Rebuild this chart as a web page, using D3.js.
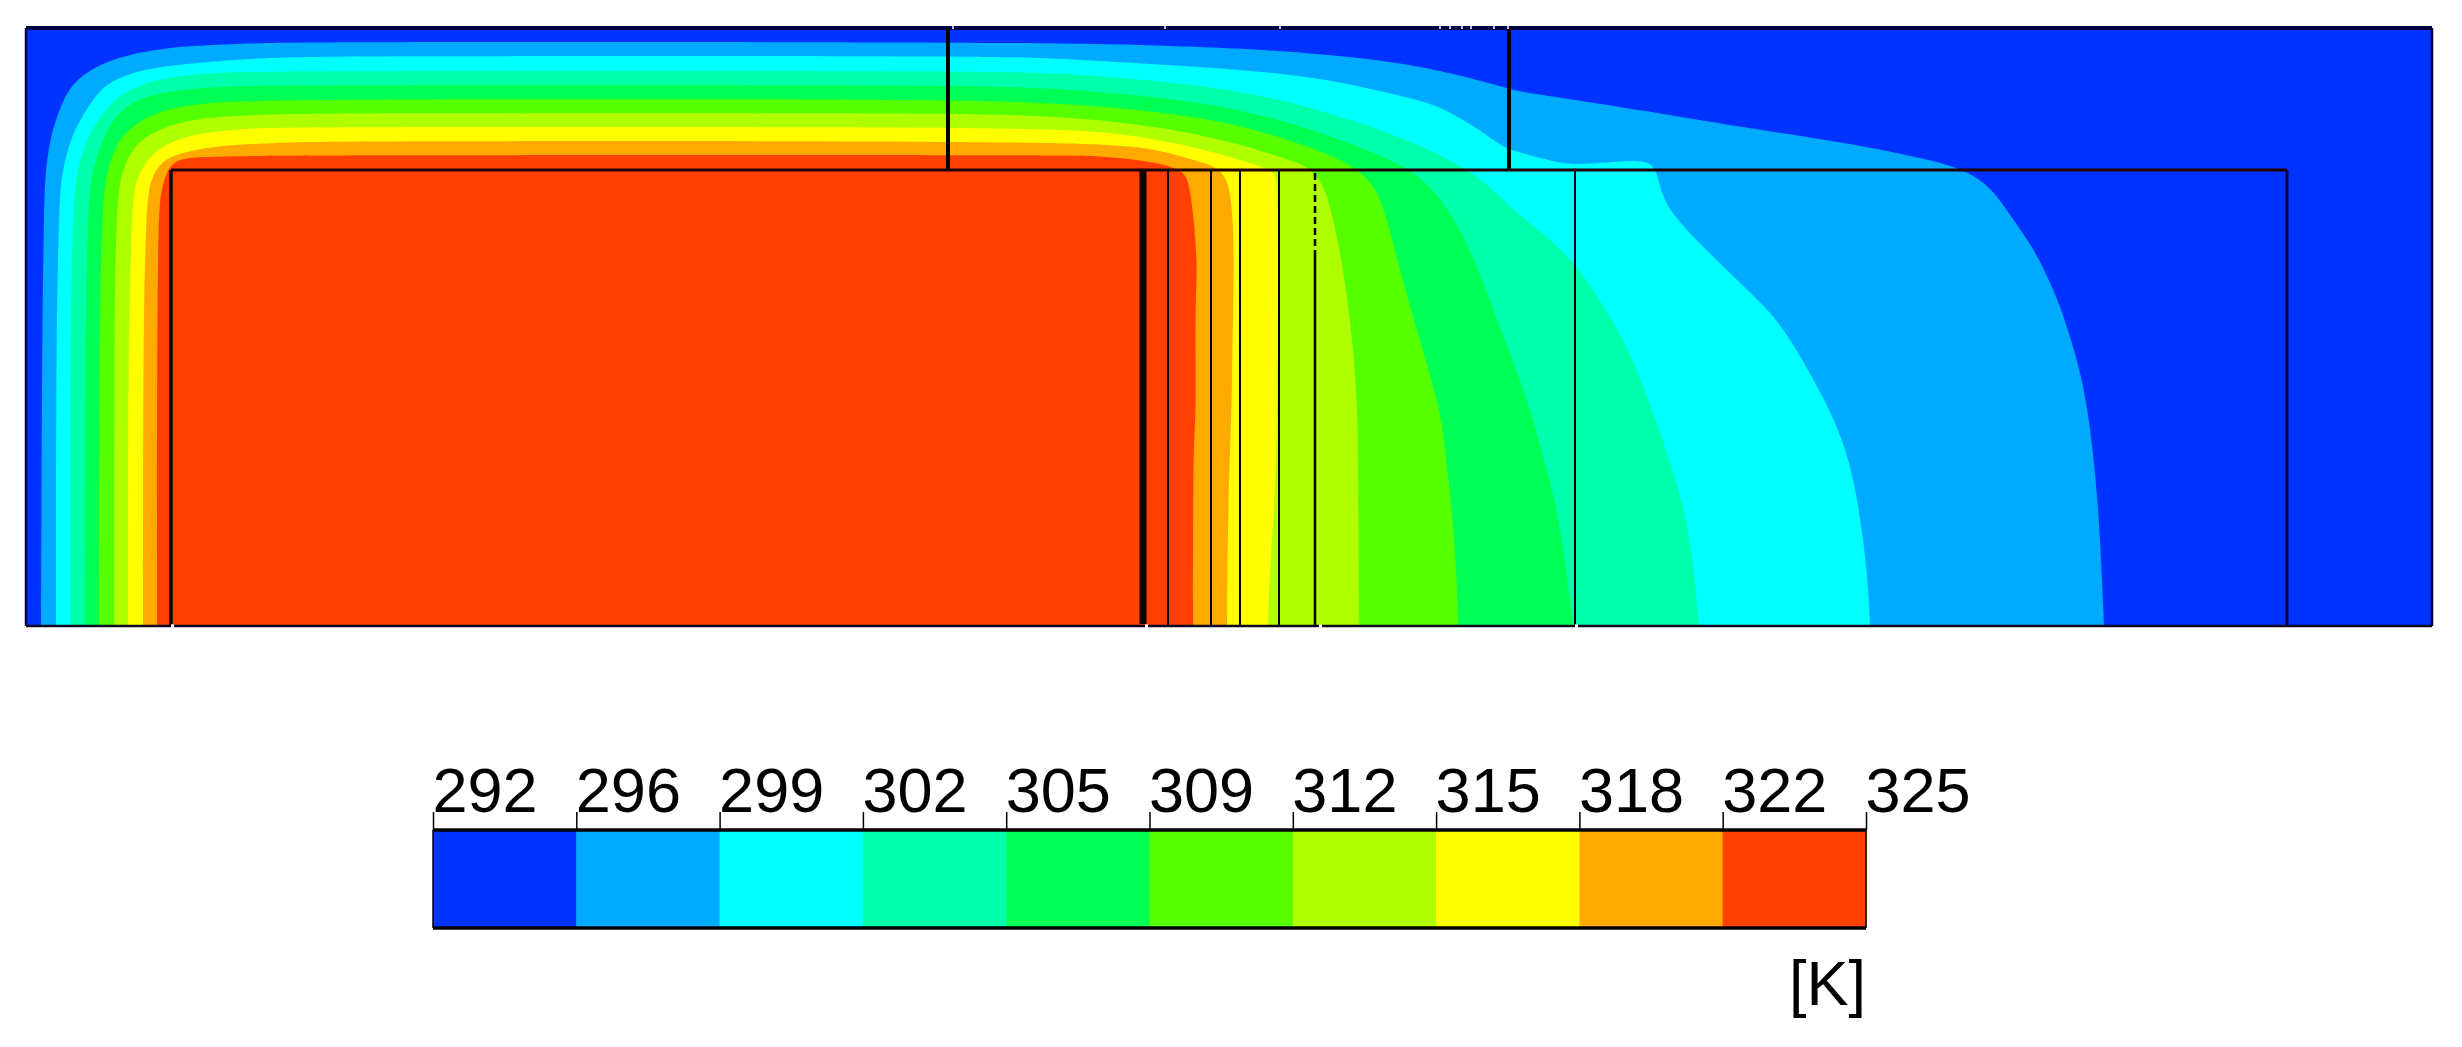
<!DOCTYPE html>
<html>
<head>
<meta charset="utf-8">
<script src="https://cdn.jsdelivr.net/npm/d3@7"></script>
<style>
    html, body { margin: 0; padding: 0; background: #fff; }
    svg { display: block; }
    text { font-family: "Liberation Sans", Arial, sans-serif; fill: #000; }
</style>
</head>
<body>
<div id="chart"></div>
<script>
// temperature bands, coolest first
var levelLabels = ["292", "296", "299", "302", "305", "309", "312", "315", "318", "322", "325"];
var bandColors = ["#0033ff", "#00aaff", "#00ffff", "#00ffaa", "#00ff55", "#55ff00", "#b0ff00", "#ffff00", "#ffaa00", "#ff4000"];
var unitLabel = "[K]";

// isotherms as [x, y] in mm along the section, y measured from the floor
var iso296 = [[15,0],[15,0],[16,276],[18,426],[20,459],[25,493],[37,526],[47,543],[68,559],[94,569],[126,576],[162,580],[209,582],[262,584],[774,584],[1067,583],[1174,579],[1241,576],[1307,571],[1394,561],[1479,539],[1484,536],[1537,528],[1614,516],[1713,499],[1823,483],[1891,469],[1943,456],[1970,433],[1985,409],[2004,383],[2017,359],[2032,326],[2042,296],[2057,246],[2067,179],[2074,96],[2078,0],[2078,0]];
var iso299 = [[30,0],[30,0],[30,276],[33,426],[37,459],[46,493],[66,526],[81,543],[105,553],[131,559],[178,564],[236,568],[314,570],[874,570],[1007,569],[1074,565],[1174,559],[1241,554],[1307,546],[1394,526],[1421,516],[1454,496],[1477,479],[1486,476],[1521,466],[1547,460],[1604,466],[1624,464],[1631,454],[1636,429],[1651,406],[1677,379],[1708,349],[1739,319],[1759,296],[1794,236],[1821,179],[1834,113],[1842,46],[1844,0],[1844,0]];
var iso302 = [[44,0],[44,0],[44,276],[47,426],[52,459],[63,493],[81,519],[97,533],[118,543],[147,549],[183,553],[246,555],[874,555],[1007,554],[1074,550],[1141,544],[1207,536],[1274,522],[1341,501],[1394,481],[1449,454],[1487,416],[1521,389],[1549,363],[1574,326],[1604,276],[1627,213],[1651,146],[1666,79],[1673,0],[1673,0]];
var iso305 = [[59,0],[59,0],[59,276],[62,426],[67,459],[79,493],[92,513],[110,526],[136,534],[183,539],[246,541],[874,541],[1007,539],[1074,534],[1141,528],[1207,518],[1274,501],[1341,476],[1399,452],[1437,393],[1451,359],[1476,293],[1502,226],[1517,169],[1531,119],[1541,53],[1547,0],[1547,0]];
var iso309 = [[73,0],[73,0],[73,276],[76,426],[82,459],[92,486],[110,503],[136,516],[173,523],[246,527],[874,527],[1007,524],[1074,520],[1141,513],[1207,503],[1274,483],[1344,456],[1361,409],[1377,343],[1397,276],[1411,226],[1416,203],[1424,136],[1431,53],[1432,0],[1432,0]];
var iso312 = [[88,0],[88,0],[88,276],[90,426],[97,459],[110,483],[131,496],[162,506],[209,511],[314,513],[874,513],[1007,511],[1074,506],[1141,498],[1207,484],[1257,468],[1294,456],[1307,409],[1317,359],[1326,293],[1331,226],[1332,186],[1333,0],[1333,0]];
var iso315 = [[102,0],[102,0],[102,276],[106,426],[111,449],[123,469],[141,483],[173,493],[220,498],[288,499],[874,499],[1007,497],[1074,495],[1141,485],[1191,473],[1247,456],[1252,451],[1252,326],[1251,153],[1244,63],[1242,0],[1242,0]];
var iso318 = [[117,0],[117,0],[117,276],[120,426],[126,449],[134,463],[152,473],[194,481],[251,483],[309,485],[974,485],[1104,481],[1141,474],[1174,464],[1202,456],[1207,409],[1208,359],[1206,259],[1206,226],[1202,126],[1201,0],[1201,0]];
var iso322 = [[131,0],[131,0],[131,409],[136,439],[141,456],[152,469],[194,469],[246,471],[1024,471],[1074,470],[1114,466],[1141,461],[1152,456],[1161,451],[1166,426],[1172,359],[1169,326],[1170,226],[1169,203],[1167,159],[1167,0],[1167,0]];

// section geometry in mm
var sectionWidth = 2406;
var sectionHeight = 598;
var blockLeft = 145;
var blockRight = 2261;
var blockTop = 456;
var roofWalls = [922, 1483];
var thinWalls = [1142, 1185, 1214, 1253, 1549];
var dashedWall = 1289;
var dashedWallBreak = 369;
var thickWall = 1117;
var floorGaps = [145, 1119, 1293, 1549];
var roofMarks = [927, 1139, 1254, 1414, 1424, 1436, 1445, 1468, 1482];

var width = 2462, height = 1047;

var svg = d3.select("#chart").append("svg")
    .attr("width", width)
    .attr("height", height);

var x = d3.scaleLinear().domain([0, sectionWidth]).range([26, 2432]);
var y = d3.scaleLinear().domain([0, sectionHeight]).range([626, 28]);

var contour = d3.line()
    .x(function (d) { return x(d[0]); })
    .y(function (d) { return y(d[1]); })
    .curve(d3.curveBasis);

// coolest band is the background, warmer bands painted on top
svg.append("rect")
    .attr("x", x(0))
    .attr("y", y(sectionHeight))
    .attr("width", x(sectionWidth) - x(0))
    .attr("height", y(0) - y(sectionHeight))
    .attr("fill", bandColors[0]);

var isotherms = [iso296, iso299, iso302, iso305, iso309, iso312, iso315, iso318, iso322];
svg.append("g").selectAll("path")
    .data(isotherms)
    .enter().append("path")
    .attr("d", function (d) { return contour(d) + "Z"; })
    .attr("fill", function (d, i) { return bandColors[i + 1]; });

// walls
function vLine(g, xv, y0, y1, w, color) {
    return g.append("line")
        .attr("x1", x(xv)).attr("x2", x(xv))
        .attr("y1", y(y0)).attr("y2", y(y1))
        .attr("stroke", color || "#000")
        .attr("stroke-width", w);
}
function hLine(g, x0, x1, yv, w, color) {
    return g.append("line")
        .attr("x1", x(x0)).attr("x2", x(x1))
        .attr("y1", y(yv)).attr("y2", y(yv))
        .attr("stroke", color || "#000")
        .attr("stroke-width", w);
}

var walls = svg.append("g");
hLine(walls, 0, sectionWidth, sectionHeight, 4, "#000340");
hLine(walls, 0, sectionWidth, 0, 2.5, "#100a20");
vLine(walls, 0, 0, sectionHeight, 2.5, "#000340");
vLine(walls, sectionWidth, 0, sectionHeight, 2.5, "#000340");

hLine(walls, blockLeft, blockRight, blockTop, 3, "#200000");
vLine(walls, blockLeft, 0, blockTop, 3.5);
vLine(walls, blockRight, 0, blockTop, 3, "#000340");
vLine(walls, thickWall, 2, blockTop, 7, "#100000");
roofWalls.forEach(function (d) { vLine(walls, d, blockTop, sectionHeight, 4); });
thinWalls.forEach(function (d) { vLine(walls, d, 0, blockTop, 2); });
vLine(walls, dashedWall, 0, dashedWallBreak, 2.5);
vLine(walls, dashedWall, dashedWallBreak, blockTop, 2.5).attr("stroke-dasharray", "7 4");

// small white breaks in the outline
floorGaps.forEach(function (d) {
    hLine(walls, d, d + 3, 0, 3.5, "#fff");
});
roofMarks.forEach(function (d) {
    vLine(walls, d, sectionHeight - 1, sectionHeight + 2, 1.5, "#fff");
});

// legend
var legendX = d3.scalePoint().domain(levelLabels).range([433, 1866]);
var legendTop = 830, legendBottom = 928;

var legend = svg.append("g");
legend.selectAll("rect")
    .data(bandColors)
    .enter().append("rect")
    .attr("x", function (d, i) { return legendX(levelLabels[i]); })
    .attr("y", legendTop)
    .attr("width", legendX.step() + 0.5)
    .attr("height", legendBottom - legendTop)
    .attr("fill", function (d) { return d; });

legend.append("line")
    .attr("x1", legendX.range()[0]).attr("x2", legendX.range()[1])
    .attr("y1", legendTop).attr("y2", legendTop)
    .attr("stroke", "#000").attr("stroke-width", 3.5);
legend.append("line")
    .attr("x1", legendX.range()[0]).attr("x2", legendX.range()[1])
    .attr("y1", legendBottom).attr("y2", legendBottom)
    .attr("stroke", "#000").attr("stroke-width", 3.5);
[legendX.range()[0], legendX.range()[1]].forEach(function (d) {
    legend.append("line")
        .attr("x1", d).attr("x2", d)
        .attr("y1", legendTop).attr("y2", legendBottom)
        .attr("stroke", "#000").attr("stroke-width", 1.5);
});

var legendAxis = d3.axisTop(legendX).tickSize(18).tickSizeOuter(0).tickPadding(0);
var axisG = legend.append("g")
    .attr("transform", "translate(0," + legendTop + ")")
    .call(legendAxis);
axisG.select(".domain").remove();
axisG.selectAll(".tick line").attr("stroke", "#000").attr("stroke-width", 1.5);
axisG.selectAll(".tick text")
    .attr("text-anchor", "start")
    .attr("x", -1)
    .attr("y", -18)
    .attr("dy", 0)
    .attr("font-family", "Liberation Sans")
    .attr("font-size", 63);

svg.append("text")
    .attr("x", 1866)
    .attr("y", 1005)
    .attr("text-anchor", "end")
    .attr("font-size", 63)
    .text(unitLabel);
</script>
</body>
</html>
